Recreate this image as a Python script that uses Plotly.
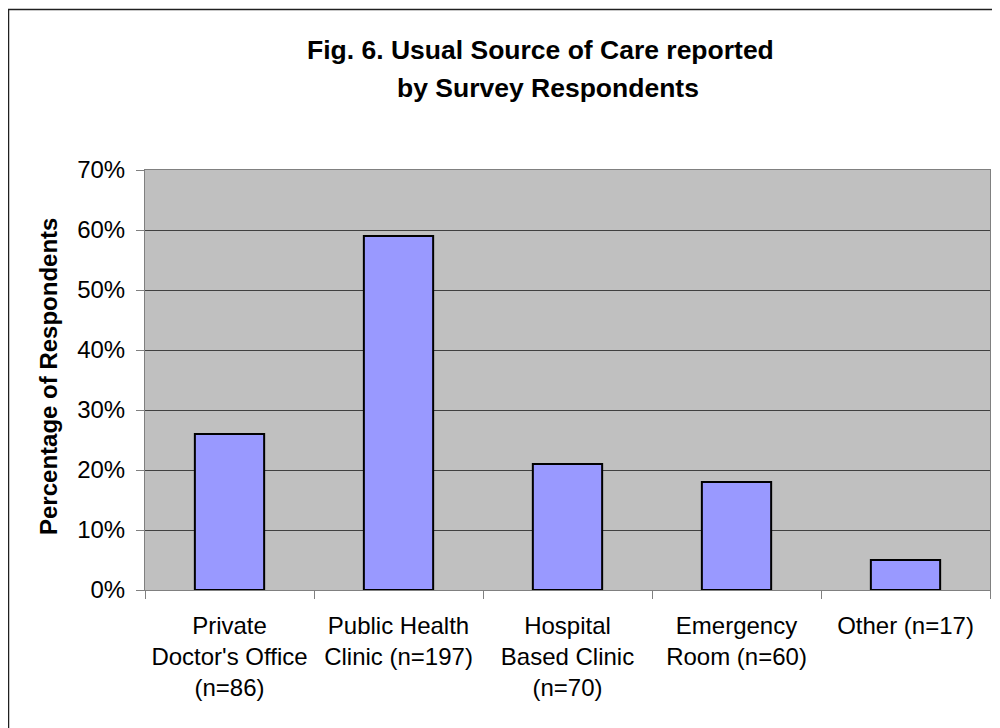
import plotly.graph_objects as go

categories = ["Private<br>Doctor's Office<br>(n=86)", "Public Health<br>Clinic (n=197)",
              "Hospital<br>Based Clinic<br>(n=70)", "Emergency<br>Room (n=60)", "Other (n=17)"]
values = [0.26, 0.59, 0.21, 0.18, 0.05]
y_ticks = [0, 0.1, 0.2, 0.3, 0.4, 0.5, 0.6, 0.7]
y_tick_labels = ["0%", "10%", "20%", "30%", "40%", "50%", "60%", "70%"]
title_lines = ["Fig. 6. Usual Source of Care reported", "by Survey Respondents"]

FONT = "Liberation Sans, Arial, sans-serif"

fig = go.Figure(go.Bar(
    x=categories, y=values,
    marker=dict(color="#9999FF", line=dict(color="black", width=2)),
))

# page body has an 8px margin; figure coordinates are screen minus 8
OFF = 8
W, H = 992, 720
L = 145 - OFF
T = 170 - OFF
R = W - (990 - OFF)
B = H - (590 - OFF)
pw, ph = W - L - R, H - T - B

def px_x(p):  # screen px -> paper
    return (p - OFF - L) / pw

def px_y(p):
    return (H - B - (p - OFF)) / ph

fig.update_layout(
    width=W, height=H,
    margin=dict(l=L, r=R, t=T, b=B, autoexpand=False),
    paper_bgcolor="white", plot_bgcolor="#C0C0C0",
    bargap=0.59, showlegend=False,
    font=dict(family=FONT, size=24, color="black"),
)
fig.update_xaxes(
    type="category", tickson="boundaries", ticks="outside", ticklen=8,
    tickcolor="#808080", showline=True, linecolor="#808080", linewidth=1, mirror=True,
    tickfont=dict(size=24, family=FONT), showgrid=False, ticklabelstandoff=14,
)
fig.update_yaxes(
    range=[0, 0.7], tickvals=y_ticks, ticktext=y_tick_labels,
    ticks="outside", ticklen=8, tickcolor="#808080",
    showline=True, linecolor="#808080", linewidth=1, mirror=True,
    showgrid=True, gridcolor="#404040", gridwidth=1, zeroline=False,
    tickfont=dict(size=24, family=FONT), ticklabelstandoff=6,
)

fig.add_annotation(
    text="<b>Percentage of Respondents</b>", textangle=-90,
    xref="paper", yref="paper", x=px_x(48), y=px_y(377),
    xanchor="center", yanchor="middle", showarrow=False,
    font=dict(size=24, family=FONT, color="black"),
)

for line, cy, cx in zip(title_lines, [50, 88], [540, 548]):
    fig.add_annotation(
        text="<b>" + line + "</b>",
        xref="paper", yref="paper", x=px_x(cx), y=px_y(cy),
        xanchor="center", yanchor="middle", showarrow=False,
        font=dict(size=26.5, family=FONT, color="black"),
    )

fig.add_shape(type="rect", xref="paper", yref="paper",
              x0=px_x(8.5), y0=px_y(780), x1=px_x(1080), y1=px_y(9.5),
              line=dict(color="#202020", width=1.5), layer="below")

fig.write_html("out.html")
